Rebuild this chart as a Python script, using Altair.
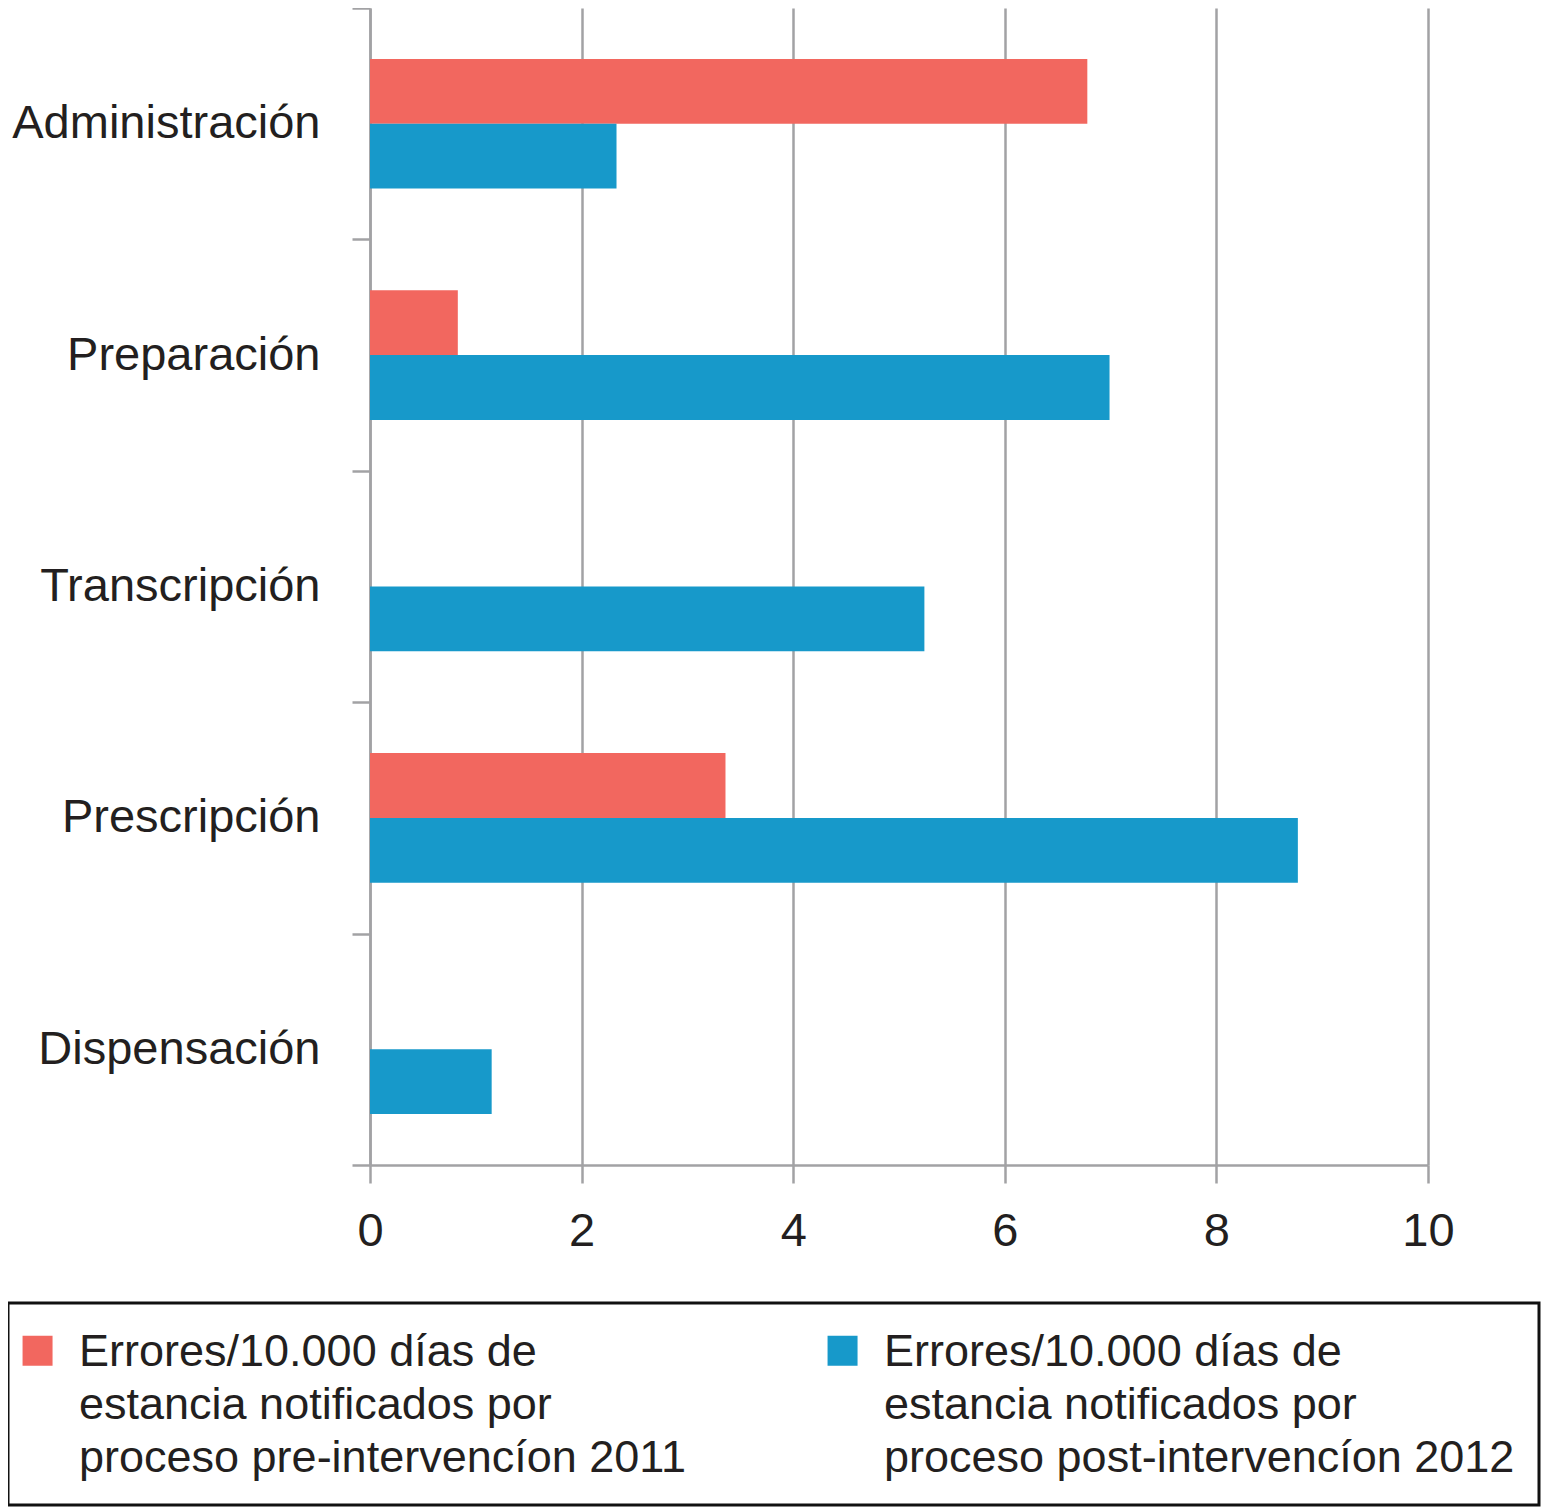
import altair as alt
import pandas as pd

categorias = ["Administración", "Preparación", "Transcripción", "Prescripción", "Dispensación"]
pre_2011 = [6.78, 0.83, 0.0, 3.36, 0.0]
post_2012 = [2.33, 6.99, 5.24, 8.77, 1.15]
series = [
    "Errores/10.000 días de|estancia notificados por|proceso pre-intervencíon 2011",
    "Errores/10.000 días de|estancia notificados por|proceso post-intervencíon 2012",
]
colores = ["#F2675F", "#1799CA"]
ticks_x = [0, 2, 4, 6, 8, 10]

rows = []
for c, a, b in zip(categorias, pre_2011, post_2012):
    rows.append({"proceso": c, "serie": series[0], "valor": a})
    rows.append({"proceso": c, "serie": series[1], "valor": b})
df = pd.DataFrame(rows)

FONT = "Liberation Sans"
GRID = "#a2a2a4"
TXT = "#231f20"

chart = alt.Chart(df).mark_bar().encode(
    x=alt.X(
        "valor:Q",
        scale=alt.Scale(domain=[0, 10], nice=False, zero=True),
        axis=alt.Axis(
            values=ticks_x, title=None, grid=True, gridColor=GRID, gridWidth=2.5,
            domainColor=GRID, domainWidth=2.5, tickColor=GRID, tickWidth=2.5, tickSize=18,
            labelFontSize=47, labelPadding=25, labelColor=TXT, labelFont=FONT, labelFlush=False,
        ),
    ),
    y=alt.Y(
        "proceso:N", sort=categorias,
        scale=alt.Scale(paddingInner=0, paddingOuter=0),
        axis=alt.Axis(
            title=None, tickBand="extent", grid=False,
            domainColor=GRID, domainWidth=2.5, tickColor=GRID, tickWidth=2.5, tickSize=18,
            labelFontSize=47, labelPadding=32, labelColor=TXT, labelFont=FONT, labelLimit=400,
        ),
    ),
    yOffset=alt.YOffset("serie:N", sort=series, scale=alt.Scale(paddingOuter=0.786, paddingInner=0)),
    color=alt.Color(
        "serie:N", sort=series,
        scale=alt.Scale(domain=series, range=colores),
        legend=alt.Legend(
            title=" ", titleFontSize=16, titlePadding=0,
            orient="none", legendX=-362, legendY=1295,
            direction="horizontal", columns=2,
            labelExpr="split(datum.label, '|')",
            labelFont=FONT, labelFontSize=45, labelColor=TXT, labelLimit=900,
            labelOffset=2, labelBaseline="alphabetic",
            symbolType="M-2.13,-2H-0.13V0H-2.13Z", symbolSize=900, symbolStrokeWidth=0, symbolOpacity=1,
            columnPadding=140, padding=24, strokeColor="#111111",
        ),
    ),
).properties(
    width=1058, height=1157,
    autosize=alt.AutoSizeParams(type="none"),
    padding={"left": 362, "top": 0, "right": 121, "bottom": 350},
).configure(
    font=FONT,
    style={"guide-label": {"lineHeight": 53}},
).configure_view(stroke="transparent").configure_legend(strokeWidth=3)

chart.save("out.html", embed_options={"renderer": "svg", "actions": False})
